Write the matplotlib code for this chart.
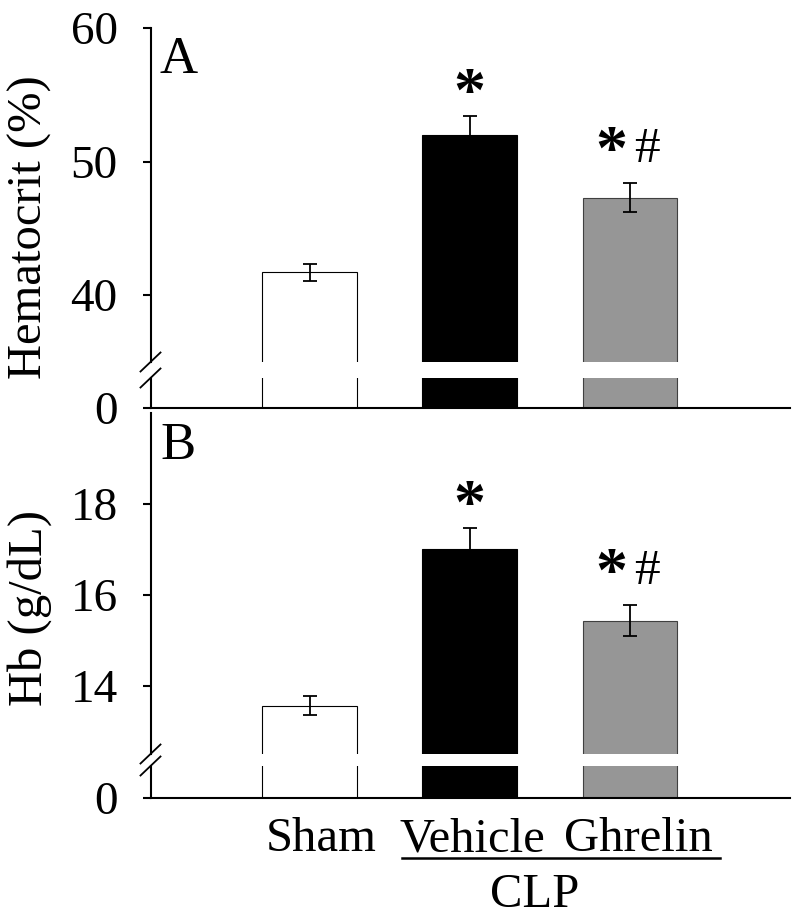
import matplotlib
matplotlib.use("Agg")
import matplotlib.pyplot as plt
from matplotlib.lines import Line2D
import matplotlib.transforms as mtransforms

# data
groups = ["Sham", "Vehicle", "Ghrelin"]
hct_mean = [41.7, 52.0, 47.3]
hct_err = [0.6, 1.4, 1.1]
hb_mean = [13.56, 17.0, 15.43]
hb_err = [0.21, 0.46, 0.34]
hct_ticks = [40, 50, 60]
hb_ticks = [14, 16, 18]
hct_marks = ["", "*", "*#"]
hb_marks = ["", "*", "*#"]

colors = ["white", "black", "#969696"]
edges = ["black", "black", "#404040"]

plt.rcParams["font.family"] = ["Liberation Serif", "DejaVu Serif"]

W, H = 800, 918
fig = plt.figure(figsize=(W / 100, H / 100), dpi=100)


def px_axes(x0, y0, x1, y1):
    # y measured from top in pixels
    return fig.add_axes([x0 / W, (H - y1) / H, (x1 - x0) / W, (y1 - y0) / H])


def style(ax, bottom=False):
    for s in ["top", "right"]:
        ax.spines[s].set_visible(False)
    ax.spines["bottom"].set_visible(bottom)
    ax.spines["left"].set_linewidth(1.5)
    ax.spines["bottom"].set_linewidth(1.5)
    ax.tick_params(axis="y", direction="out", length=6, width=1.5, pad=18, labelsize=34)
    ax.tick_params(axis="x", length=0, pad=14, labelsize=35)
    ax.set_xlim(-0.99, 3.0)


def draw_bars(ax, means, errs):
    x = range(len(means))
    ax.bar(x, means, width=0.59, color=colors, edgecolor=edges, linewidth=0.8, zorder=2)
    ax.errorbar(x, means, yerr=errs, fmt="none", ecolor="black", elinewidth=1.3,
                capsize=5, capthick=1.3, zorder=3)


def break_marks(xc, yc):
    for y in yc:
        fig.add_artist(Line2D([(xc - 10) / W, (xc + 10) / W],
                              [(H - y - 9.5) / H, (H - y + 9.5) / H],
                              color="black", lw=1.3))


def panel(top, gap0, gap1, bottom, means, errs, ylim, ticks, marks, letter, ylabel, ylab_y):
    ax = px_axes(151, top, 790, gap0)
    lo = px_axes(151, gap1, 790, bottom)
    style(ax)
    style(lo, bottom=True)
    draw_bars(ax, means, errs)
    draw_bars(lo, means, errs)
    ax.set_ylim(*ylim)
    ax.set_yticks(ticks)
    ax.set_xticks([])
    lo.set_ylim(0, 1)
    lo.set_yticks([0])
    lo.set_xticks([])
    ax.text(0.014, 0.975, letter, transform=ax.transAxes, fontsize=38, va="top", ha="left")
    for i, m in enumerate(marks):
        if not m:
            continue
        y = means[i] + errs[i]
        if m == "*":
            ax.annotate("*", (i, y), xytext=(0, 4), textcoords="offset points",
                        ha="center", va="baseline", fontsize=46, fontweight="bold")
        else:
            ax.annotate("*", (i, y), xytext=(-13, 10), textcoords="offset points",
                        ha="center", va="baseline", fontsize=46, fontweight="bold")
            ax.annotate("#", (i, y), xytext=(12, 15), textcoords="offset points",
                        ha="center", va="baseline", fontsize=37)
    break_marks(150.5, [gap0, gap1])
    fig.text(30 / W, (H - ylab_y) / H, ylabel, rotation=90, ha="center", va="center", fontsize=35)
    return ax, lo


axA, loA = panel(28, 362, 378, 408, hct_mean, hct_err, (35, 60), hct_ticks, hct_marks,
                 "A", "Hematocrit (%)", 227)
axB, loB = panel(413, 754, 766, 798, hb_mean, hb_err, (12.5, 20), hb_ticks, hb_marks,
                 "B", "Hb (g/dL)", 608)

# group labels under the lower panel, nudged right as in the original
loB.set_xticks(range(len(groups)))
loB.set_xticklabels(groups)
nudge = [12, 3, 9]
for lbl, dx in zip(loB.get_xticklabels(), nudge):
    lbl.set_transform(lbl.get_transform() +
                      mtransforms.ScaledTranslation(dx / 100, 0, fig.dpi_scale_trans))

fig.add_artist(Line2D([402 / W, 720 / W], [(H - 858) / H] * 2, color="black", lw=1.8))
fig.text(535 / W, (H - 907) / H, "CLP", ha="center", va="baseline", fontsize=35)

fig.savefig("out.png", dpi=100)
